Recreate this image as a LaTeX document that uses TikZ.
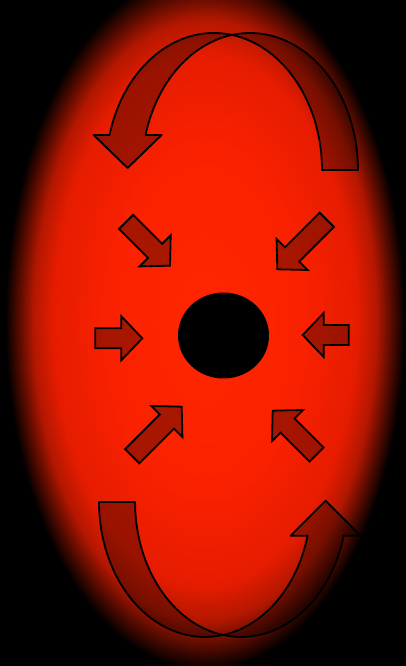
\documentclass[tikz,border=0pt]{standalone}
\usetikzlibrary{shapes.geometric}
\pgfdeclareradialshading{glow}{\pgfpoint{0bp}{0bp}}{rgb(0bp)=(1,0.15,0); rgb(12bp)=(0.98,0.13,0); rgb(19bp)=(0.9,0.11,0); rgb(21.5bp)=(0.7,0.09,0); rgb(23bp)=(0.4,0.05,0); rgb(25bp)=(0,0,0); rgb(50bp)=(0,0,0)}

\begin{document}
\begin{tikzpicture}[x=1pt, y=1pt,
  band/.style={draw=black, line width=1.8pt, line join=round, fill=black, fill opacity=0.33},
  push/.style={band, line join=miter},
  core/.style={ellipse, fill=black, minimum width=91pt, minimum height=86pt, inner sep=0pt}]
  \useasboundingbox (0,0) rectangle (406,666);
  \fill[black] (0,0) rectangle (406,666);
  \shade[shading=glow] (205,346) ellipse[x radius=200pt, y radius=350pt];

  % top turn
  \coordinate (ttop) at (232,631.1);
  \draw[band] (358,496) arc[start angle=0, end angle=99.6, x radius=108pt, y radius=137pt]
    arc[start angle=80.4, end angle=0, x radius=108pt, y radius=137pt] -- cycle;
  \draw[band] (ttop) arc[start angle=80.4, end angle=165.2, x radius=108pt, y radius=137pt]
    -- (93.6,531) -- (127.6,498) -- (161.6,531) -- (145.6,531)
    arc[start angle=165.2, end angle=99.6, x radius=108pt, y radius=137pt] -- cycle;

  % bottom turn
  \coordinate (tbot) at (223,31);
  \draw[band] (99,164) arc[start angle=180, end angle=279.8, x radius=106pt, y radius=135pt]
    arc[start angle=260.2, end angle=180, x radius=106pt, y radius=135pt] -- cycle;
  \draw[band] (tbot) arc[start angle=260.2, end angle=345.55, x radius=106pt, y radius=135pt]
    -- (360.6,130.3) -- (325.6,165.3) -- (290.6,130.3) -- (307.6,130.3)
    arc[start angle=345.55, end angle=279.8, x radius=106pt, y radius=135pt] -- cycle;

  \node[core] (hole) at (223.5,330.5) {};

  \foreach \tx/\ty/\ang/\len in {142.3/327.7/0/47, 302.7/331/180/46,
      170/400.3/-45/62, 277.3/396.7/225/70, 181.7/259.3/45/70, 272.7/255.3/135/62}
    \draw[push, shift={(\tx,\ty)}, rotate=\ang]
      (0,0) -- (-21,22) -- (-21,10) -- (-\len,10) -- (-\len,-10) -- (-21,-10) -- (-21,-22) -- cycle;
\end{tikzpicture}
\end{document}
